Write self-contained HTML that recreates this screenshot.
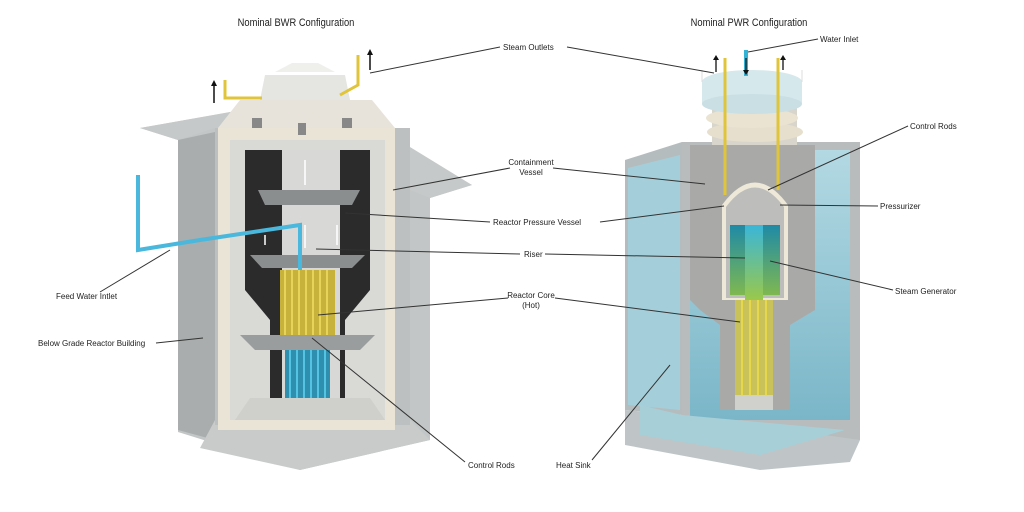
<!DOCTYPE html>
<html><head><meta charset="utf-8"><style>
html,body{margin:0;padding:0;background:#fff;width:1024px;height:512px;overflow:hidden}
svg{display:block}
text{font-family:"Liberation Sans",sans-serif;fill:#222}
.l{font-size:8px}
.t{font-size:11px}
</style></head><body>
<svg width="1024" height="512" viewBox="0 0 1024 512" xmlns="http://www.w3.org/2000/svg">
<defs>
<linearGradient id="wat" x1="0" y1="0" x2="0" y2="1"><stop offset="0" stop-color="#b3d9e3"/><stop offset="1" stop-color="#7ab6c8"/></linearGradient>
<linearGradient id="sg" x1="0" y1="0" x2="0" y2="1"><stop offset="0" stop-color="#1f8aa6"/><stop offset="1" stop-color="#7fb850"/></linearGradient>
<linearGradient id="riser" x1="0" y1="0" x2="0" y2="1"><stop offset="0" stop-color="#3ab6d8"/><stop offset="1" stop-color="#9ac84a"/></linearGradient>
</defs>
<text class="t" x="296" y="26" text-anchor="middle" transform="translate(296 0) scale(0.85 1) translate(-296 0)">Nominal  BWR Configuration</text>
<text class="t" x="749" y="26" text-anchor="middle" transform="translate(749 0) scale(0.85 1) translate(-749 0)">Nominal  PWR Configuration</text>

<!-- BWR building -->
<polygon points="140,128 300,100 472,185 430,198 430,440 300,470 178,432 178,140" fill="#c3c6c6"/>
<polygon points="140,128 230,112 330,98 472,185 430,198 410,190 410,140 215,128 178,140" fill="#c6c9c9"/>
<polygon points="178,140 215,132 215,440 178,430" fill="#a9adad"/>
<polygon points="215,420 410,420 430,440 300,470 200,448" fill="#c9cbcb"/>
<polygon points="215,128 410,128 410,425 215,425" fill="#bcc0c0"/>
<polygon points="218,128 395,128 395,430 218,430" fill="#e9e4d6"/>
<polygon points="230,140 385,140 385,420 230,420" fill="#d9d9d6"/>
<polygon points="245,150 370,150 370,290 345,320 345,400 270,400 270,320 245,290" fill="#2b2b2c"/>
<rect x="282" y="150" width="58" height="250" fill="#d8d9d7"/>
<polygon points="258,190 360,190 352,205 265,205" fill="#8b8e8f"/>
<polygon points="250,255 365,255 352,268 262,268" fill="#8b8e8f"/>
<polygon points="240,335 375,335 360,350 255,350" fill="#9a9d9e"/>
<rect x="280" y="270" width="55" height="65" fill="#c7b23c"/>
<g stroke="#e7d25a" stroke-width="2"><line x1="285" y1="270" x2="285" y2="335"/><line x1="292" y1="270" x2="292" y2="335"/><line x1="299" y1="270" x2="299" y2="335"/><line x1="306" y1="270" x2="306" y2="335"/><line x1="313" y1="270" x2="313" y2="335"/><line x1="320" y1="270" x2="320" y2="335"/><line x1="327" y1="270" x2="327" y2="335"/></g>
<rect x="285" y="350" width="45" height="50" fill="#2e8fae"/>
<g stroke="#55c3e2" stroke-width="2"><line x1="290" y1="350" x2="290" y2="400"/><line x1="297" y1="350" x2="297" y2="400"/><line x1="304" y1="350" x2="304" y2="400"/><line x1="311" y1="350" x2="311" y2="400"/><line x1="318" y1="350" x2="318" y2="400"/><line x1="325" y1="350" x2="325" y2="400"/></g>
<polygon points="250,398 370,398 385,420 235,420" fill="#cfcfcc"/>
<polygon points="218,128 240,100 372,100 395,128" fill="#e7e3da"/>
<polygon points="265,75 345,75 350,100 260,100" fill="#e5e5e2"/>
<polygon points="275,72 292,63 318,63 335,72" fill="#efefec"/>
<rect x="252" y="118" width="10" height="10" fill="#888"/><rect x="342" y="118" width="10" height="10" fill="#888"/><rect x="298" y="123" width="8" height="12" fill="#888"/>
<path d="M225,80 V98 L262,98" stroke="#e0c43a" stroke-width="3" fill="none"/>
<path d="M358,55 V85 L340,95" stroke="#e0c43a" stroke-width="3" fill="none"/>
<path d="M138,175 V250 L200,240 L300,225 V270" stroke="#4ab7dc" stroke-width="4" fill="none"/>
<g stroke="#111" stroke-width="1.5"><line x1="214" y1="103" x2="214" y2="83"/><line x1="370" y1="70" x2="370" y2="52"/></g>
<polygon points="211,86 217,86 214,80" fill="#111"/><polygon points="367,55 373,55 370,49" fill="#111"/>
<g stroke="#fff" stroke-width="1.5"><line x1="305" y1="185" x2="305" y2="160"/><line x1="305" y1="248" x2="305" y2="225"/><line x1="265" y1="235" x2="265" y2="245"/><line x1="337" y1="225" x2="337" y2="245"/></g>

<!-- PWR building -->
<polygon points="625,160 682,142 682,415 625,410" fill="#b5bcbd"/>
<polygon points="682,142 860,142 860,440 682,440" fill="#b8bcbc"/>
<polygon points="628,168 680,155 680,410 628,405" fill="#a4cfda"/>
<polygon points="690,150 850,150 850,420 690,420" fill="url(#wat)"/>
<polygon points="625,410 682,415 860,440 850,462 760,470 625,445" fill="#bfc5c6"/>
<polygon points="640,405 682,415 845,430 760,455 640,435" fill="#a7cfd8"/>
<polygon points="690,145 815,145 815,310 790,325 790,410 720,410 720,325 700,310 690,300" fill="#a9aaa8"/>
<path d="M722,300 V205 Q755,160 788,205 V300 Z" fill="#eee8d8"/>
<path d="M726,298 V207 Q755,168 784,207 V298 Z" fill="#bdbdbb"/>
<rect x="730" y="225" width="22" height="70" fill="url(#sg)"/>
<rect x="758" y="225" width="22" height="70" fill="url(#sg)"/>
<rect x="745" y="225" width="18" height="75" fill="url(#riser)"/>
<rect x="735" y="300" width="38" height="105" fill="#c9c25a"/>
<g stroke="#e5d84a" stroke-width="2"><line x1="742" y1="300" x2="742" y2="395"/><line x1="750" y1="300" x2="750" y2="395"/><line x1="758" y1="300" x2="758" y2="395"/><line x1="766" y1="300" x2="766" y2="395"/></g>
<rect x="735" y="395" width="38" height="15" fill="#d0d0cc"/>
<rect x="712" y="100" width="85" height="45" fill="#d8d5cc"/>
<ellipse cx="755" cy="132" rx="48" ry="10" fill="#e6dfcd"/>
<ellipse cx="752" cy="118" rx="46" ry="10" fill="#eae3d2"/>
<ellipse cx="752" cy="82" rx="50" ry="12" fill="#d5e8ec"/>
<rect x="702" y="82" width="100" height="22" fill="#d5e8ec"/>
<ellipse cx="752" cy="104" rx="50" ry="10" fill="#c9dfe4"/>
<path d="M702,70 V82 M802,70 V82" stroke="#ddd" stroke-width="1"/>
<g stroke="#e0c43a" stroke-width="3"><line x1="725" y1="58" x2="725" y2="195"/><line x1="778" y1="58" x2="778" y2="190"/></g>
<line x1="746" y1="50" x2="746" y2="76" stroke="#33b3d6" stroke-width="4"/>
<g stroke="#111" stroke-width="1.3"><line x1="716" y1="72" x2="716" y2="58"/><line x1="783" y1="70" x2="783" y2="58"/><line x1="746" y1="58" x2="746" y2="72"/></g>
<polygon points="713,60 719,60 716,55" fill="#111"/><polygon points="780,60 786,60 783,55" fill="#111"/><polygon points="743,70 749,70 746,75" fill="#111"/>

<g stroke="#333" stroke-width="1" fill="none">
<line x1="500" y1="47" x2="370" y2="73"/><line x1="567" y1="47" x2="714" y2="73"/>
<line x1="818" y1="39" x2="748" y2="52"/>
<line x1="908" y1="126" x2="768" y2="190"/>
<line x1="510" y1="168" x2="393" y2="190"/><line x1="553" y1="168" x2="705" y2="184"/>
<line x1="490" y1="222" x2="345" y2="213"/><line x1="600" y1="222" x2="724" y2="206"/>
<line x1="878" y1="206" x2="780" y2="205"/>
<line x1="520" y1="254" x2="316" y2="249"/><line x1="545" y1="254" x2="745" y2="258"/>
<line x1="893" y1="290" x2="770" y2="261"/>
<line x1="508" y1="298" x2="318" y2="315"/><line x1="555" y1="298" x2="740" y2="322"/>
<line x1="100" y1="292" x2="170" y2="250"/>
<line x1="156" y1="343" x2="203" y2="338"/>
<line x1="465" y1="462" x2="312" y2="338"/>
<line x1="592" y1="460" x2="670" y2="365"/>
</g>
<text class="l" x="503" y="50">Steam Outlets</text>
<text class="l" x="820" y="42">Water Inlet</text>
<text class="l" x="910" y="129">Control Rods</text>
<text class="l" x="531" y="165" text-anchor="middle">Containment</text>
<text class="l" x="531" y="175" text-anchor="middle">Vessel</text>
<text class="l" x="493" y="225">Reactor Pressure Vessel</text>
<text class="l" x="880" y="209">Pressurizer</text>
<text class="l" x="524" y="257">Riser</text>
<text class="l" x="895" y="294">Steam Generator</text>
<text class="l" x="531" y="298" text-anchor="middle">Reactor Core</text>
<text class="l" x="531" y="308" text-anchor="middle">(Hot)</text>
<text class="l" x="56" y="299">Feed Water Intlet</text>
<text class="l" x="38" y="346">Below Grade Reactor Building</text>
<text class="l" x="468" y="468">Control Rods</text>
<text class="l" x="556" y="468">Heat Sink</text>
</svg>
</body></html>
